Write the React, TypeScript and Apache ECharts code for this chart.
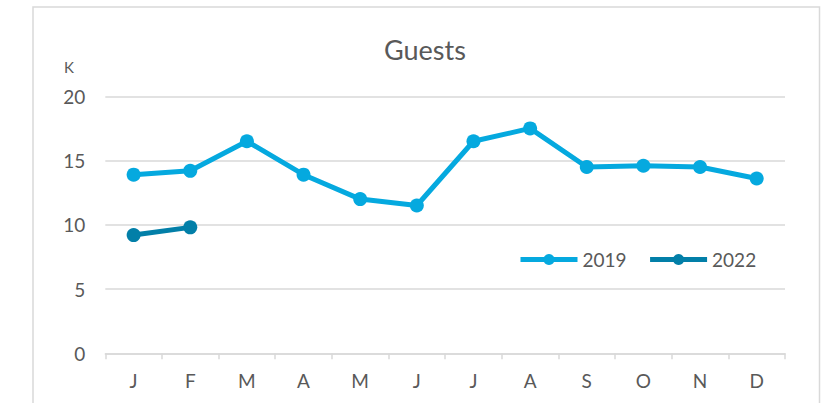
import React, { useEffect, useRef } from "react";
import * as echarts from "echarts";

const months = ["J", "F", "M", "A", "M", "J", "J", "A", "S", "O", "N", "D"];
const guests2019 = [13.9, 14.2, 16.5, 13.9, 12.0, 11.5, 16.5, 17.5, 14.5, 14.6, 14.5, 13.6];
const guests2022 = [9.2, 9.8];
const seriesNames = ["2019", "2022"];
const yTicks = [0, 5, 10, 15, 20];

const C2019 = "#05A9DF";
const C2022 = "#027FA8";
const TXT = "#595959";
const GRID = "#D9D9D9";
const FONT = "Lato";

export default function App() {
  const ref = useRef<HTMLDivElement>(null);
  useEffect(() => {
    if (!ref.current) return;
    const chart = echarts.init(ref.current, undefined, { renderer: "svg" });
    chart.setOption({
      animation: false,
      backgroundColor: "#FFFFFF",
      textStyle: { fontFamily: FONT },
      title: {
        text: "Guests",
        left: 420,
        top: 31,
        textAlign: "center",
        textStyle: { fontFamily: FONT, fontSize: 27, fontWeight: "normal", color: TXT },
      },
      graphic: [
        {
          type: "rect",
          shape: { x: 33, y: 7, width: 786.5, height: 420 },
          style: { fill: "none", stroke: GRID, lineWidth: 1.5 },
          silent: true,
        },
        {
          type: "text",
          x: 69,
          y: 67,
          style: { text: "K", fontFamily: FONT, fontSize: 15, fill: TXT, textAlign: "center", textVerticalAlign: "middle" },
        },
      ],
      legend: {
        data: seriesNames,
        left: 518,
        top: 250,
        padding: 0,
        itemWidth: 57,
        itemHeight: 14,
        itemGap: 21,
        lineStyle: { width: 5 },
        textStyle: { fontFamily: FONT, fontSize: 19, color: TXT },
      },
      grid: { left: 105.3, right: 826 - 785, top: 96.3, bottom: 403 - 353.3, containLabel: false },
      xAxis: {
        type: "category",
        data: months,
        boundaryGap: true,
        axisLine: { lineStyle: { color: GRID, width: 1.5 } },
        axisTick: { show: true, length: 6, lineStyle: { color: GRID, width: 1.5 } },
        axisLabel: { color: TXT, fontSize: 19, fontFamily: FONT, margin: 18 },
        splitLine: { show: false },
      },
      yAxis: {
        type: "value",
        min: yTicks[0],
        max: yTicks[yTicks.length - 1],
        interval: 5,
        axisLine: { show: false },
        axisTick: { show: false },
        axisLabel: { color: TXT, fontSize: 19, fontFamily: FONT, margin: 20 },
        splitLine: { lineStyle: { color: GRID, width: 1.5 } },
      },
      series: [
        {
          name: seriesNames[0],
          type: "line",
          data: guests2019,
          symbol: "circle",
          symbolSize: 14,
          lineStyle: { color: C2019, width: 5 },
          itemStyle: { color: C2019 },
        },
        {
          name: seriesNames[1],
          type: "line",
          data: guests2022,
          symbol: "circle",
          symbolSize: 14,
          lineStyle: { color: C2022, width: 5 },
          itemStyle: { color: C2022 },
        },
      ],
    });
    return () => chart.dispose();
  }, []);
  return (
    <div
      ref={ref}
      style={{ position: "absolute", left: 0, top: 0, width: 826, height: 403 }}
    />
  );
}
